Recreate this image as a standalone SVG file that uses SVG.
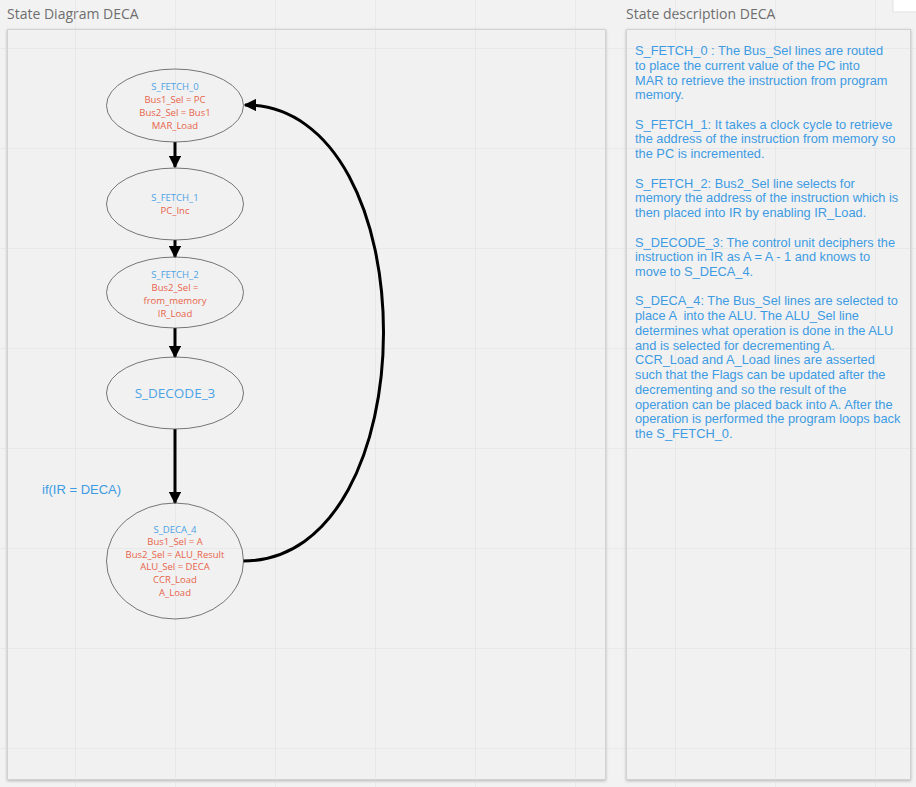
<svg xmlns="http://www.w3.org/2000/svg" width="916" height="787" viewBox="0 0 916 787">
  <defs>
    <marker id="arrow" viewBox="0 0 10 10" refX="9" refY="5" markerWidth="4.2" markerHeight="4.2" orient="auto" markerUnits="strokeWidth">
      <path d="M0,0 L10,5 L0,10 Z" fill="#000"/>
    </marker>
    <filter id="shadow" x="-5%" y="-5%" width="110%" height="110%">
      <feDropShadow dx="0" dy="1" stdDeviation="1.5" flood-color="#000" flood-opacity="0.25"/>
    </filter>
    <pattern id="grid" x="75" y="48" width="100" height="100" patternUnits="userSpaceOnUse">
      <path d="M0,0 H100 M0,0 V100" fill="none" stroke="#dcdcdc" stroke-width="1"/>
    </pattern>
  </defs>
  <style>
    .title { font-family: "Open Sans", "Noto Sans", sans-serif; font-size: 14px; fill: #6e6e6e; }
    .panel { fill: #f1f1f1; stroke: #d2d2d2; stroke-width: 1; }
    .state { fill: none; stroke: #555; stroke-width: 0.8; }
    .name { font-family: "Open Sans", "Noto Sans", sans-serif; font-size: 9.5px; fill: #4da3e6; text-anchor: middle; }
    .sig { font-family: "Open Sans", "Noto Sans", sans-serif; font-size: 9.5px; fill: #e8634a; text-anchor: middle; }
    .edge { fill: none; stroke: #000; stroke-width: 3; marker-end: url(#arrow); }
    .desc { font-family: "Liberation Sans", Arial, sans-serif; font-size: 12.8px; fill: #3d9be3; }
    .cond { font-family: "Liberation Sans", Arial, sans-serif; font-size: 13px; fill: #3d9be3; }
  </style>

  <!-- canvas -->
  <rect width="916" height="787" fill="#f2f2f2"/>
  <rect x="893" y="-2" width="25" height="14" fill="#ffffff" stroke="#e2e2e2"/>

  <!-- frames -->
  <text class="title" x="7" y="19">State Diagram DECA</text>
  <text class="title" x="626" y="19">State description DECA</text>
  <rect class="panel" x="7.5" y="29.5" width="598" height="750" filter="url(#shadow)"/>
  <rect class="panel" x="626.5" y="29.5" width="284" height="750" filter="url(#shadow)"/>
  <rect width="916" height="787" fill="url(#grid)" opacity="0.8"/>

  <!-- connectors -->
  <g id="connectors">
    <line class="edge" x1="175" y1="142" x2="175" y2="167"/>
    <line class="edge" x1="175" y1="240" x2="175" y2="257"/>
    <line class="edge" x1="175" y1="328" x2="175" y2="357"/>
    <line class="edge" x1="175" y1="429" x2="175" y2="503"/>
    <path class="edge" d="M243,561 C430,561 430,105 245,105"/>
    <text class="cond" x="42" y="494">if(IR = DECA)</text>
  </g>

  <!-- states -->
  <g id="s_fetch_0">
    <ellipse class="state" cx="175" cy="105.5" rx="68.5" ry="36.5"/>
    <text class="name" x="175" y="89.5">S_FETCH_0</text>
    <text class="sig" x="175" y="102.5">Bus1_Sel = PC</text>
    <text class="sig" x="175" y="115.5">Bus2_Sel = Bus1</text>
    <text class="sig" x="175" y="128.5">MAR_Load</text>
  </g>
  <g id="s_fetch_1">
    <ellipse class="state" cx="175" cy="204" rx="68.5" ry="36"/>
    <text class="name" x="175" y="200.5">S_FETCH_1</text>
    <text class="sig" x="175" y="214">PC_Inc</text>
  </g>
  <g id="s_fetch_2">
    <ellipse class="state" cx="175" cy="292.5" rx="68.5" ry="35.5"/>
    <text class="name" x="175" y="277.5">S_FETCH_2</text>
    <text class="sig" x="175" y="290.5">Bus2_Sel =</text>
    <text class="sig" x="175" y="304">from_memory</text>
    <text class="sig" x="175" y="317">IR_Load</text>
  </g>
  <g id="s_decode_3">
    <ellipse class="state" cx="175" cy="393" rx="68.5" ry="36"/>
    <text class="name" x="175" y="397.5" style="font-size:13.5px">S_DECODE_3</text>
  </g>
  <g id="s_deca_4">
    <ellipse class="state" cx="175" cy="561" rx="68.5" ry="58"/>
    <text class="name" x="175" y="532.5">S_DECA_4</text>
    <text class="sig" x="175" y="545">Bus1_Sel = A</text>
    <text class="sig" x="175" y="557.5">Bus2_Sel = ALU_Result</text>
    <text class="sig" x="175" y="570">ALU_Sel = DECA</text>
    <text class="sig" x="175" y="582.5">CCR_Load</text>
    <text class="sig" x="175" y="595.5">A_Load</text>
  </g>

  <!-- state descriptions -->
  <g id="descriptions">
    <text class="desc" x="635" y="55">S_FETCH_0 : The Bus_Sel lines are routed</text>
    <text class="desc" x="635" y="69.7">to place the current value of the PC into</text>
    <text class="desc" x="635" y="84.5">MAR to retrieve the instruction from program</text>
    <text class="desc" x="635" y="99.2">memory.</text>
    <text class="desc" x="635" y="128.6">S_FETCH_1: It takes a clock cycle to retrieve</text>
    <text class="desc" x="635" y="143.4">the address of the instruction from memory so</text>
    <text class="desc" x="635" y="158.1">the PC is incremented.</text>
    <text class="desc" x="635" y="187.6">S_FETCH_2: Bus2_Sel line selects for</text>
    <text class="desc" x="635" y="202.3">memory the address of the instruction which is</text>
    <text class="desc" x="635" y="217">then placed into IR by enabling IR_Load.</text>
    <text class="desc" x="635" y="246.5">S_DECODE_3: The control unit deciphers the</text>
    <text class="desc" x="635" y="261.2">instruction in IR as A = A - 1 and knows to</text>
    <text class="desc" x="635" y="276">move to S_DECA_4.</text>
    <text class="desc" x="635" y="305.4">S_DECA_4: The Bus_Sel lines are selected to</text>
    <text class="desc" x="635" y="320.1" xml:space="preserve">place A  into the ALU. The ALU_Sel line</text>
    <text class="desc" x="635" y="334.9">determines what operation is done in the ALU</text>
    <text class="desc" x="635" y="349.6">and is selected for decrementing A.</text>
    <text class="desc" x="635" y="364.3">CCR_Load and A_Load lines are asserted</text>
    <text class="desc" x="635" y="379.1">such that the Flags can be updated after the</text>
    <text class="desc" x="635" y="393.8">decrementing and so the result of the</text>
    <text class="desc" x="635" y="408.5">operation can be placed back into A. After the</text>
    <text class="desc" x="635" y="423.3">operation is performed the program loops back</text>
    <text class="desc" x="635" y="438">the S_FETCH_0.</text>
  </g>
</svg>
